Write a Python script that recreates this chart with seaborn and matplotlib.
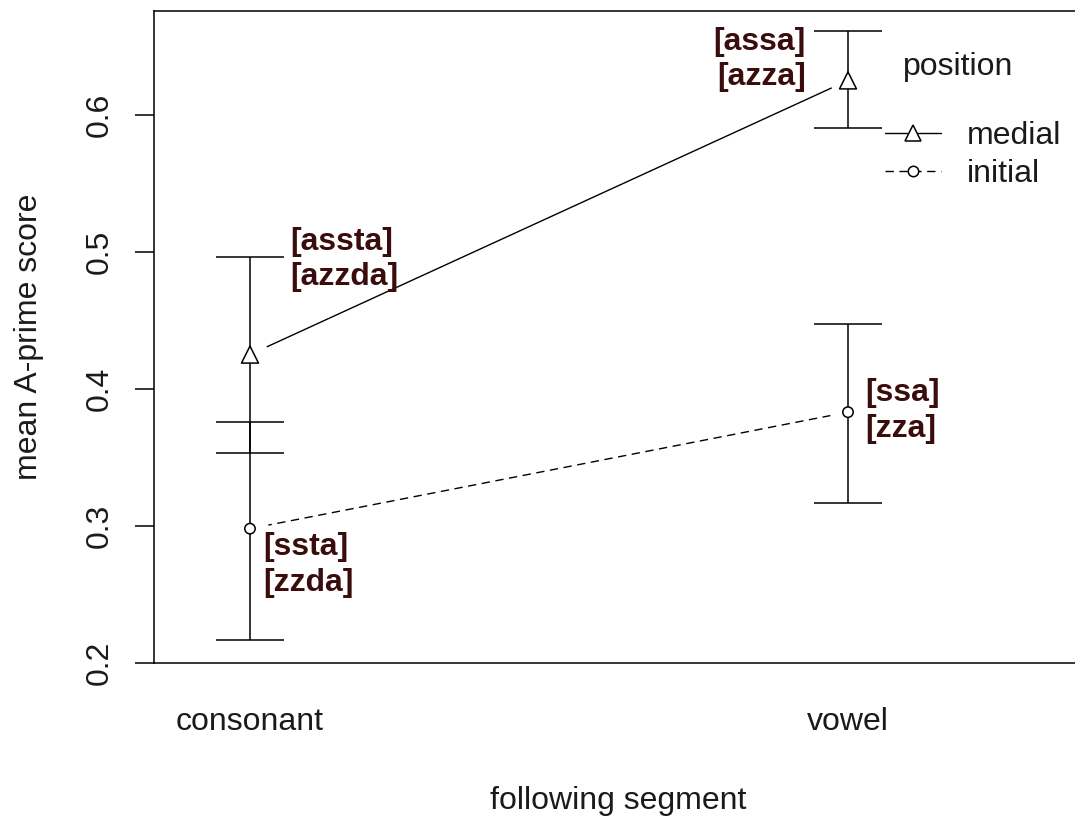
import pandas as pd
import matplotlib
matplotlib.use("Agg")
import matplotlib.pyplot as plt
from matplotlib.lines import Line2D
import seaborn as sns

# ---------------------------------------------------
# DATA
# ---------------------------------------------------

segments = ["consonant", "vowel"]
seg_pos = [0, 1]
positions = ["medial", "initial"]

medial_mean = [0.425, 0.625]
medial_lo = [0.353, 0.590]
medial_hi = [0.496, 0.661]

initial_mean = [0.298, 0.383]
initial_lo = [0.217, 0.317]
initial_hi = [0.376, 0.447]

medial_labels = ["[assta]\n[azzda]", "[assa]\n[azza]"]
initial_labels = ["[ssta]\n[zzda]", "[ssa]\n[zza]"]

y_ticks = [0.2, 0.3, 0.4, 0.5, 0.6]
y_ticklabels = ["0.2", "0.3", "0.4", "0.5", "0.6"]

df = pd.DataFrame({
    "x": seg_pos * 2,
    "segment": segments * 2,
    "position": [positions[0]] * 2 + [positions[1]] * 2,
    "mean": medial_mean + initial_mean,
    "lo": medial_lo + initial_lo,
    "hi": medial_hi + initial_hi,
    "label": medial_labels + initial_labels,
})

# ---------------------------------------------------
# STYLE
# ---------------------------------------------------

sns.set_theme(style="ticks")
plt.rcParams["font.family"] = ["Liberation Sans", "DejaVu Sans"]
plt.rcParams["text.color"] = "#1a1a1a"
plt.rcParams["axes.labelcolor"] = "#1a1a1a"
plt.rcParams["xtick.color"] = "black"
plt.rcParams["ytick.color"] = "black"
plt.rcParams["xtick.labelcolor"] = "#1a1a1a"
plt.rcParams["ytick.labelcolor"] = "#1a1a1a"

FS = 23
LABEL_COLOR = "#3a0c0c"

W, H = 1075, 817
fig = plt.figure(figsize=(W / 100, H / 100), dpi=100)
ax = fig.add_axes([154 / W, (H - 663) / H, (1086 - 154) / W, (663 - 10.5) / H])

# lines between the two segments
sns.lineplot(
    data=df, x="x", y="mean", style="position",
    dashes={"medial": "", "initial": (6, 4)},
    color="black", lw=1.0, legend=False, ax=ax, zorder=1,
)

# white halo so lines stop short of the points (R type="b")
sns.scatterplot(
    data=df, x="x", y="mean", color="white", s=700,
    linewidth=0, legend=False, ax=ax, zorder=2,
)

# error bars
for pos in positions:
    sub = df[df["position"] == pos]
    ax.errorbar(
        sub["x"], sub["mean"],
        yerr=[sub["mean"] - sub["lo"], sub["hi"] - sub["mean"]],
        fmt="none", ecolor="black", elinewidth=1.1,
        capsize=24.5, capthick=1.1, zorder=3,
    )

# point markers
sns.scatterplot(
    data=df, x="x", y="mean", style="position",
    markers={"medial": "^", "initial": "o"},
    size="position", sizes={"medial": 150, "initial": 56},
    color="white", edgecolor="black", linewidth=1.1,
    legend=False, ax=ax, zorder=4,
)

# bold stimulus labels
offsets = {
    ("medial", 0): (40, 95, "left"),
    ("medial", 1): (-42, 21, "right"),
    ("initial", 0): (13, -36, "left"),
    ("initial", 1): (17, 1, "left"),
}
for _, row in df.iterrows():
    dx, dy, ha = offsets[(row["position"], row["x"])]
    ax.annotate(
        row["label"], xy=(row["x"], row["mean"]),
        xytext=(dx, dy), textcoords="offset pixels",
        ha=ha, va="center", fontsize=FS, fontweight="bold",
        color=LABEL_COLOR, linespacing=1.25, zorder=5,
    )

# ---------------------------------------------------
# AXES
# ---------------------------------------------------

ax.set_xlim(-0.1605, 1.398)
ax.set_ylim(0.2, 0.676)

ax.set_xticks(seg_pos)
ax.set_xticklabels(segments, fontsize=FS)
ax.tick_params(axis="x", length=0, pad=32)

ax.set_yticks(y_ticks)
ax.set_yticklabels(y_ticklabels, fontsize=FS, rotation=90, va="center")
ax.tick_params(axis="y", length=14, width=1.1, pad=14)

for sp in ax.spines.values():
    sp.set_color("black")
    sp.set_linewidth(1.1)

ax.set_xlabel("following segment", fontsize=FS)
ax.set_ylabel("mean A-prime score", fontsize=FS)
ax.xaxis.set_label_coords((618 - 154) / 932, -(786 - 663) / 652.5)
ax.yaxis.set_label_coords(-(154 - 44) / 932, 0.5)

# legend
handles = [
    Line2D([], [], color="black", lw=1.0, marker="^", ms=12,
           mfc="white", mec="black", mew=1.1),
    Line2D([], [], color="black", lw=1.0, ls=(0, (6, 4)), marker="o",
           ms=7.5, mfc="white", mec="black", mew=1.1),
]
ax.legend(
    handles, positions, loc="upper left",
    bbox_to_anchor=(885 / W, 1 - 121 / H), bbox_transform=fig.transFigure,
    frameon=False, fontsize=FS, borderpad=0, borderaxespad=0,
    handlelength=1.75, handletextpad=0.8, labelspacing=0.25,
)
fig.text(903 / W, 1 - 67 / H, "position", fontsize=FS, ha="left", va="center")

fig.savefig("out.png", dpi=100)
